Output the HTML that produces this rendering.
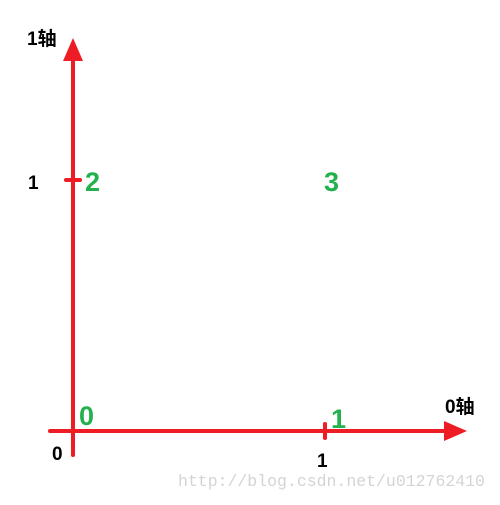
<!DOCTYPE html>
<html><head><meta charset="utf-8"><style>
body{margin:0;background:#fff;}
svg text{font-family:"Liberation Sans","Noto Sans CJK SC",sans-serif;font-weight:bold;}
</style></head><body>
<svg width="500" height="500" viewBox="0 0 500 500">
<script>
const axisTickLabels=["0","1"];
</script>
<line x1="73" y1="455" x2="73" y2="58" stroke="#ee1c25" stroke-width="4" stroke-linecap="round"/>
<polygon points="73,38 63,61 83,61" fill="#ee1c25"/>
<line x1="50" y1="431" x2="447" y2="431" stroke="#ee1c25" stroke-width="4" stroke-linecap="round"/>
<polygon points="467,431 444,421 444,441" fill="#ee1c25"/>
<line x1="325" y1="424" x2="325" y2="438" stroke="#ee1c25" stroke-width="4" stroke-linecap="round"/>
<line x1="66" y1="180" x2="80" y2="180" stroke="#ee1c25" stroke-width="4" stroke-linecap="round"/>
<text x="27" y="45" font-size="19" fill="#000">1轴</text>
<text x="445" y="413" font-size="19" fill="#000">0轴</text>
<text x="28" y="189" font-size="19" fill="#000">1</text>
<text x="52" y="460" font-size="19" fill="#000">0</text>
<text x="317" y="467" font-size="19" fill="#000">1</text>
<text x="85" y="191" font-size="27" fill="#22b14c">2</text>
<text x="324" y="191" font-size="27" fill="#22b14c">3</text>
<text x="79" y="425" font-size="27" fill="#22b14c">0</text>
<text x="331" y="428" font-size="27" fill="#22b14c">1</text>
<text x="178" y="486" font-size="16.5" fill="#d4d4d4" style="font-family:'Liberation Mono',monospace;font-weight:normal">http://blog.csdn.net/u012762410</text>
</svg>
</body></html>
